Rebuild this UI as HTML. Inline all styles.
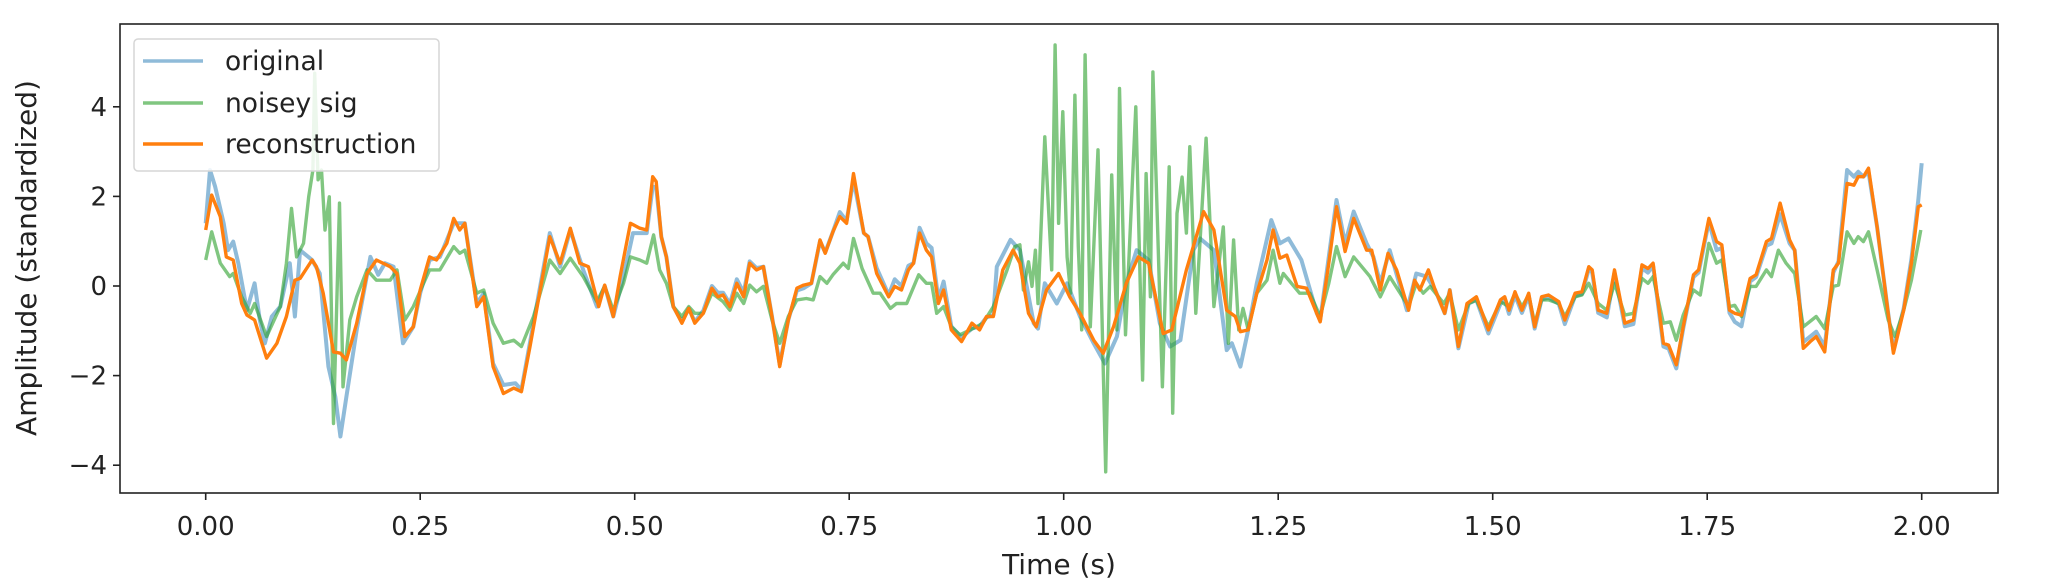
<!DOCTYPE html>
<html><head><meta charset="utf-8"><style>
html,body{margin:0;padding:0;background:#fff;}
svg{display:block;font-family:"DejaVu Sans","Liberation Sans",sans-serif;}
</style></head><body>
<svg id="chart" width="2046" height="580" viewBox="0 0 2046 580" xmlns="http://www.w3.org/2000/svg">
<rect x="0" y="0" width="2046" height="580" fill="#fff"/>
<g id="series"></g>
<g id="axes"></g>
<text x="0" y="0" transform="translate(36,258) rotate(-90)" text-anchor="middle" font-size="28" fill="#222">Amplitude (standardized)</text>
<text x="1059" y="574" text-anchor="middle" font-size="28" fill="#222">Time (s)</text>
<g>
<rect x="134" y="39" width="305" height="132" rx="4" fill="#fff" fill-opacity="0.85" stroke="#d6d6d6" stroke-width="1.5"/>
<line x1="143" y1="61" x2="203" y2="61" stroke="#1f77b4" stroke-opacity="0.5" stroke-width="3.5"/>
<text x="225" y="70" font-size="26.5" fill="#222">original</text>
<line x1="143" y1="103" x2="203" y2="103" stroke="#2ca02c" stroke-opacity="0.6" stroke-width="3.5"/>
<text x="225" y="112" font-size="26.5" fill="#222">noisey sig</text>
<line x1="143" y1="144" x2="203" y2="144" stroke="#ff7f0e" stroke-width="3.5"/>
<text x="225" y="153" font-size="26.5" fill="#222">reconstruction</text>
</g>
</svg>
<script>
const xTicks = [0, 0.25, 0.5, 0.75, 1.0, 1.25, 1.5, 1.75, 2.0];
const xTickLabels = ["0.00","0.25","0.50","0.75","1.00","1.25","1.50","1.75","2.00"];
const yTicks = [-4, -2, 0, 2, 4];
const yTickLabels = ["\u22124","\u22122","0","2","4"];

const origT = [0,.005,.011,.021,.026,.032,.038,.048,.057,.063,.069,.077,.087,.098,.104,.110,.124,.133,.143,.151,.157,.164,.176,.192,.201,.209,.219,.230,.242,.250,.261,.273,.289,.302,.316,.324,.335,.347,.361,.368,.401,.413,.425,.440,.456,.465,.475,.487,.498,
.506,.514,.521,.525,.531,.537,.545,.555,.563,.570,.580,.590,.597,.603,.611,.619,.627,.634,.642,.650,.660,.669,.679,.689,.697,.706,.716,.722,.731,.739,.747,.755,.767,.772,.782,.796,.803,.811,.819,.825,.832,.840,.846,.854,.860,.869,.881,.893,.902,.910,.918,.922,.938,.949,.965,.970,.978,.992,1.004,
1.019,1.035,1.048,1.062,1.073,1.085,1.099,1.112,1.124,1.136,1.151,1.159,1.175,1.190,1.196,1.206,1.215,1.225,1.242,1.252,1.262,1.277,1.295,1.299,1.318,1.328,1.338,1.353,1.361,1.369,1.380,1.400,1.411,1.423,1.433,1.444,1.450,1.460,1.472,1.481,1.495,
1.509,1.514,1.519,1.526,1.534,1.542,1.549,1.557,1.565,1.577,1.584,1.596,1.604,1.612,1.616,1.623,1.633,1.642,1.654,1.664,1.674,1.681,1.687,1.699,1.705,1.714,1.722,1.734,1.740,1.752,1.761,1.767,1.776,1.782,1.790,1.800,1.807,1.819,1.825,1.835,1.846,1.852,1.862,1.870,1.877,1.887,1.897,1.903,1.913,1.921,1.926,1.932,1.938,1.948,1.961,1.967,1.979,1.988,1.996,2.0];
const origV = [1.40,2.59,2.22,1.40,0.80,0.99,0.51,-0.54,0.06,-0.76,-1.28,-0.68,-0.46,0.51,-0.68,0.80,0.58,0.28,-1.80,-2.47,-3.36,-2.47,-0.98,0.65,0.25,0.51,0.43,-1.28,-0.91,-0.16,0.58,0.65,1.40,1.40,-0.39,-0.16,-1.73,-2.21,-2.17,-2.32,1.18,0.43,1.25,0.36,-0.46,0.0,-0.68,0.21,1.18,
1.18,1.18,2.22,2.20,1.10,.65,-.46,-.80,-.50,-.80,-.55,.0,-.15,-.15,-.40,.15,-.15,.55,.40,.43,-.68,-1.75,-.76,-.10,-.05,.06,1.0,.75,1.21,1.65,1.45,2.37,1.18,1.10,.40,-.20,.15,.0,.45,.51,1.30,.95,.85,-.30,.10,-.90,-1.15,-.95,-.90,-.70,-.65,.43,1.03,.80,-.83,-.95,.06,-.39,.06,
-.68,-1.28,-1.73,-1.13,.06,.80,.58,-.83,-1.35,-1.21,.80,1.06,.80,-1.43,-1.28,-1.80,-.98,.06,1.47,.95,1.06,.58,-.61,-.76,1.92,.95,1.66,.95,.65,.06,.80,-.54,.28,.21,-.09,-.61,-.09,-1.39,-.39,-.31,-1.06,
-.40,-.30,-.62,-.20,-.60,-.22,-.95,-.30,-.26,-.40,-.85,-.22,-.18,.38,.30,-.60,-.70,.30,-.90,-.85,.40,.30,.45,-1.35,-1.40,-1.84,-.95,.20,.30,1.44,.80,.85,-.60,-.80,-.90,.10,.20,.90,.95,1.60,.95,.80,-1.25,-1.13,-1.02,-1.35,.30,.55,2.59,2.44,2.55,2.44,2.55,1.32,-.61,-1.43,-.50,.60,1.92,2.74];

const noisyT = [0,.007,.017,.028,.032,.042,.052,.057,.071,.087,.094,.100,.106,.114,.120,.125,.127,.131,.135,.139,.144,.149,.156,.160,.168,.176,.188,.199,.215,.223,.232,.242,.254,.261,.273,.289,.296,.302,.316,.324,.335,.347,.359,.368,.382,.401,.413,.425,.440,.456,.465,.475,.487,.495,
.506,.514,.522,.529,.537,.545,.555,.563,.570,.580,.590,.603,.611,.619,.627,.634,.642,.650,.660,.669,.679,.689,.700,.708,.716,.724,.731,.743,.749,.755,.765,.778,.786,.798,.805,.817,.831,.840,.846,.852,.860,.869,.879,.891,.906,.918,.934,.943,.949,.953,.959,.963,.967,.970,.978,.986,.990,.994,.999,1.004,1.008,1.013,1.017,1.021,1.025,
1.031,1.040,1.049,1.056,1.062,1.065,1.072,1.084,1.092,1.096,1.101,1.104,1.115,1.123,1.127,1.132,1.138,1.143,1.147,1.154,1.166,1.175,1.186,1.192,1.198,1.204,1.209,1.215,1.225,1.237,1.244,1.252,1.256,1.275,1.287,1.299,1.309,1.318,1.328,1.338,1.357,1.369,1.380,1.402,1.411,1.419,1.427,1.443,1.450,1.460,1.472,1.481,1.495,
1.509,1.519,1.526,1.534,1.542,1.549,1.557,1.565,1.577,1.584,1.596,1.604,1.612,1.623,1.633,1.642,1.654,1.664,1.674,1.681,1.687,1.699,1.707,1.714,1.722,1.734,1.742,1.752,1.761,1.767,1.776,1.782,1.790,1.800,1.807,1.819,1.825,1.833,1.842,1.852,1.862,1.877,1.887,1.897,1.903,1.913,1.921,1.926,1.932,1.938,1.948,1.961,1.969,1.979,1.988,1.996,1.999];
const noisyV = [0.58,1.21,0.51,0.21,0.28,-0.24,-0.61,-0.39,-1.13,-0.46,0.51,1.73,0.65,0.95,1.99,2.59,4.75,2.37,2.59,1.25,1.99,-3.07,1.85,-2.25,-0.76,-0.24,0.36,0.13,0.13,0.36,-0.76,-0.46,0.06,0.36,0.36,0.88,0.73,0.80,-0.16,-0.09,-0.83,-1.28,-1.21,-1.35,-0.68,0.58,0.28,0.62,0.21,-0.35,0.0,-0.54,0.06,0.65,
.58,.51,1.14,.36,.06,-.46,-.68,-.46,-.61,-.61,-.16,-.35,-.54,-.16,-.39,.02,-.13,-.01,-.76,-1.28,-.68,-.31,-.28,-.31,.21,.06,.25,.51,.39,1.06,.39,-.16,-.16,-.50,-.39,-.39,.25,.06,.06,-.61,-.46,-.91,-1.09,-.98,-.83,-.46,.36,.88,.92,-.09,.54,-.01,.80,-.39,3.33,.36,5.38,1.40,3.89,.65,-.16,4.26,.88,-.98,5.16,
-.91,3.04,-4.15,2.48,-.98,4.41,-1.09,4.00,-2.10,2.51,-.24,4.78,-2.25,2.66,-2.84,1.62,2.43,1.18,3.11,-.61,3.30,-.46,1.32,-1.28,1.03,-.98,-.50,-.98,-.16,.13,.80,.06,.28,-.16,-.16,-.68,.06,.88,.21,.65,.21,-.24,.21,-.46,.06,-.16,-.01,-.39,-.16,-.98,-.39,-.31,-.91,
-.35,-.46,-.16,-.46,-.20,-.83,-.31,-.31,-.39,-.68,-.24,-.20,.06,-.39,-.54,.06,-.65,-.61,.17,.06,.21,-.83,-.80,-1.21,-.65,-.09,-.20,.95,.51,.58,-.46,-.43,-.68,-.01,-.01,.36,.21,.80,.51,.28,-.91,-.68,-.95,-.01,.02,1.21,.95,1.10,.99,1.21,.36,-.76,-1.13,-.54,.13,.95,1.25];

const reconT = [0,.007,.017,.024,.032,.042,.048,.057,.071,.083,.094,.104,.110,.124,.129,.137,.149,.157,.164,.176,.188,.199,.215,.223,.232,.242,.250,.261,.269,.281,.289,.296,.302,.316,.324,.335,.347,.359,.368,.378,.401,.413,.425,.436,.446,.458,.465,.475,.483,.495,
.506,.514,.521,.525,.531,.537,.545,.555,.563,.570,.580,.590,.597,.603,.611,.619,.627,.634,.642,.650,.660,.669,.679,.689,.697,.706,.716,.722,.731,.739,.747,.755,.767,.772,.782,.796,.803,.811,.819,.825,.832,.840,.846,.854,.860,.869,.881,.893,.902,.910,.918,.929,.941,.949,.959,.968,.980,.994,1.007,
1.019,1.035,1.046,1.058,1.073,1.087,1.099,1.116,1.126,1.143,1.163,1.175,1.190,1.200,1.206,1.215,1.225,1.237,1.244,1.252,1.260,1.272,1.283,1.299,1.309,1.318,1.328,1.338,1.353,1.359,1.369,1.378,1.388,1.402,1.409,1.415,1.425,1.433,1.444,1.450,1.460,1.470,1.481,1.495,
1.509,1.514,1.519,1.526,1.534,1.542,1.549,1.557,1.565,1.577,1.584,1.596,1.604,1.612,1.616,1.623,1.633,1.642,1.654,1.664,1.674,1.681,1.687,1.699,1.705,1.714,1.722,1.734,1.740,1.752,1.761,1.767,1.776,1.782,1.790,1.800,1.807,1.819,1.825,1.835,1.846,1.852,1.862,1.870,1.877,1.887,1.897,1.903,1.913,1.921,1.926,1.932,1.938,1.948,1.961,1.967,1.979,1.988,1.996,2.0];
const reconV = [1.25,2.03,1.55,0.65,0.58,-0.39,-0.65,-0.76,-1.61,-1.28,-0.68,0.13,0.17,0.58,0.43,-0.16,-1.47,-1.50,-1.65,-0.83,0.28,0.58,0.43,0.28,-1.13,-0.91,-0.09,0.65,0.58,0.95,1.51,1.25,1.40,-0.46,-0.24,-1.80,-2.40,-2.28,-2.36,-1.35,1.10,0.51,1.29,0.51,0.43,-0.46,0.02,-0.68,0.21,1.40,
1.29,1.25,2.44,2.33,1.10,.65,-.46,-.83,-.50,-.83,-.61,-.05,-.24,-.20,-.46,.06,-.24,.51,.36,.43,-.68,-1.80,-.76,-.05,.02,.06,1.03,.73,1.21,1.55,1.40,2.51,1.18,1.10,.28,-.24,-.01,-.09,.36,.51,1.18,.80,.65,-.39,-.09,-.98,-1.24,-.83,-.98,-.68,-.68,.36,.80,.51,-.61,-.91,-.09,.28,-.24,
-.61,-1.21,-1.50,-.91,.06,.65,.51,-1.06,-.98,.36,1.66,1.25,-.54,-.68,-1.02,-.98,-.16,.58,1.25,.62,.69,-.01,-.05,-.80,.51,1.77,.77,1.51,.80,.80,-.09,.73,.36,-.54,.13,-.09,.36,-.09,-.61,-.09,-1.35,-.39,-.24,-.98,
-.31,-.24,-.54,-.13,-.54,-.16,-.91,-.24,-.20,-.35,-.76,-.16,-.13,.43,.36,-.54,-.61,.36,-.83,-.76,.47,.39,.51,-1.28,-1.32,-1.76,-.91,.25,.36,1.51,.99,.92,-.54,-.61,-.65,.17,.25,.99,1.06,1.85,1.03,.80,-1.39,-1.24,-1.13,-1.47,.36,.51,2.29,2.25,2.44,2.44,2.63,1.32,-.61,-1.50,-.54,.51,1.77,1.81];

const NS = "http://www.w3.org/2000/svg";
const L = 120, R = 1998, T = 24, B = 493;
const X0 = 205.7, XU = 858;
const Y0 = 286, YU = 44.8;
function xs(t){ return X0 + t*XU; }
function ys(v){ return Y0 - v*YU; }

const seriesG = document.getElementById('series');
function drawLine(ts, vs, color, op, w, name){
  let d = "";
  for (let i = 0; i < ts.length; i++) d += (i ? "L" : "M") + xs(ts[i]).toFixed(1) + "," + ys(vs[i]).toFixed(1);
  const p = document.createElementNS(NS, 'path');
  p.setAttribute('d', d);
  p.setAttribute('fill', 'none');
  p.setAttribute('stroke', color);
  p.setAttribute('stroke-opacity', op);
  p.setAttribute('stroke-width', w);
  p.setAttribute('stroke-linejoin', 'round');
  
  
  seriesG.appendChild(p);
}
drawLine(origT, origV, '#1f77b4', 0.5, 4, 'original-line');
drawLine(noisyT, noisyV, '#2ca02c', 0.6, 3.4, 'noisy-signal-line');
drawLine(reconT, reconV, '#ff7f0e', 1, 3.4, 'reconstruction-line');

const axes = document.getElementById('axes');
const frame = document.createElementNS(NS, 'rect');
frame.setAttribute('x', L); frame.setAttribute('y', T);
frame.setAttribute('width', R - L); frame.setAttribute('height', B - T);
frame.setAttribute('fill', 'none'); frame.setAttribute('stroke', '#222'); frame.setAttribute('stroke-width', '1.6');


axes.appendChild(frame);

xTicks.forEach((t, i) => {
  const x = xs(t);
  const tk = document.createElementNS(NS, 'line');
  tk.setAttribute('x1', x); tk.setAttribute('x2', x); tk.setAttribute('y1', B); tk.setAttribute('y2', B + 7);
  tk.setAttribute('stroke', '#222'); tk.setAttribute('stroke-width', '1.6');
  
  
  axes.appendChild(tk);
  const tx = document.createElementNS(NS, 'text');
  tx.setAttribute('x', x); tx.setAttribute('y', B + 42);
  tx.setAttribute('text-anchor', 'middle'); tx.setAttribute('font-size', '26'); tx.setAttribute('fill', '#222');
  tx.textContent = xTickLabels[i];
  
  
  axes.appendChild(tx);
});
yTicks.forEach((v, i) => {
  const y = ys(v);
  const tk = document.createElementNS(NS, 'line');
  tk.setAttribute('x1', L - 7); tk.setAttribute('x2', L); tk.setAttribute('y1', y); tk.setAttribute('y2', y);
  tk.setAttribute('stroke', '#222'); tk.setAttribute('stroke-width', '1.6');
  
  
  axes.appendChild(tk);
  const tx = document.createElementNS(NS, 'text');
  tx.setAttribute('x', L - 13); tx.setAttribute('y', y + 9);
  tx.setAttribute('text-anchor', 'end'); tx.setAttribute('font-size', '26'); tx.setAttribute('fill', '#222');
  tx.textContent = yTickLabels[i];
  
  
  axes.appendChild(tx);
});
</script>
</body></html>
